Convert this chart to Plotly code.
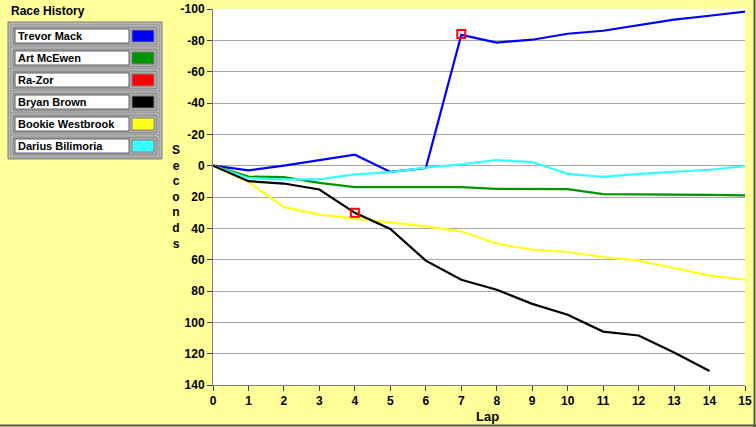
import plotly.graph_objects as go

laps = list(range(16))
laps_bryan = list(range(15))
trevor = [0, 3, 0, -3.5, -7, 4, 1.5, -83.5, -78.6, -80.4, -84.2, -86.1, -89.8, -93.2, -95.7, -98.3]
art = [0, 7, 7.3, 11, 13.7, 13.7, 13.7, 13.7, 14.8, 15, 15, 18.2, 18.2, 18.2, 18.6, 19]
razor_laps = [4, 7]
razor = [30.1, -84]
bryan = [0, 9.9, 11.4, 15.2, 30.1, 40.4, 60.6, 72.8, 79.2, 88.2, 95.2, 105.9, 108.4, 119.3, 131]
bookie = [0, 10.5, 26.5, 31.2, 33.8, 36.1, 38.7, 41.9, 49.8, 53.6, 55.1, 58.3, 60.6, 65.3, 70.2, 72.8]
darius = [0, 8, 8.8, 8.8, 5.6, 4.1, 1.3, -0.8, -3.6, -2.3, 5.2, 7.1, 5.2, 3.9, 2.6, 0.3]

names = ["Trevor Mack", "Art McEwen", "Ra-Zor", "Bryan Brown", "Bookie Westbrook", "Darius Bilimoria"]
colors = ["#0000FF", "#009400", "#FF0000", "#000000", "#FFFF1A", "#33FFFF"]

y_ticks = [-100, -80, -60, -40, -20, 0, 20, 40, 60, 80, 100, 120, 140]
y_ticktext = ["-100", "-80", "-60", "-40", "-20", "0", "20", "40", "60", "80", "100", "120", "140"]
x_ticks = list(range(16))

W, H = 756, 427
L, R, T, B = 213, 745, 9, 385
BG = "#FFFF99"


def px(x):
    return (x - L) / (R - L)


def py(y):
    return (B - y) / (B - T)


fig = go.Figure()
series = [
    (laps, trevor, colors[0]),
    (laps, art, colors[1]),
    (laps, darius, colors[5]),
    (laps, bookie, colors[4]),
    (laps_bryan, bryan, colors[3]),
]
for xs, ys, c in series:
    fig.add_trace(go.Scatter(x=xs, y=ys, mode="lines",
                             line=dict(color=c, width=2.2),
                             showlegend=False, hoverinfo="skip"))
fig.add_trace(go.Scatter(x=razor_laps, y=razor, mode="markers",
                         marker=dict(symbol="square-open", size=8, color=colors[2],
                                     line=dict(width=2, color=colors[2])),
                         showlegend=False, hoverinfo="skip"))

shapes = []
annotations = []

# legend frame
shapes.append(dict(type="rect", xref="paper", yref="paper",
                   x0=px(8), x1=px(162), y0=py(22), y1=py(159),
                   fillcolor="#B8B8B8", line=dict(color="#7A7A7A", width=1)))
for i, (n, c) in enumerate(zip(names, colors)):
    top = 25 + i * 22
    shapes.append(dict(type="rect", xref="paper", yref="paper",
                       x0=px(11), x1=px(159), y0=py(top), y1=py(top + 22),
                       fillcolor="#D4D4D4", line=dict(color="#8A8A8A", width=1)))
    shapes.append(dict(type="rect", xref="paper", yref="paper",
                       x0=px(13), x1=px(157), y0=py(top + 2), y1=py(top + 20),
                       fillcolor="#ACACAC", line=dict(color="#7A7A7A", width=1)))
    shapes.append(dict(type="rect", xref="paper", yref="paper",
                       x0=px(15), x1=px(129), y0=py(top + 4), y1=py(top + 18),
                       fillcolor="#FFFFFF", line=dict(color="#606060", width=1)))
    shapes.append(dict(type="rect", xref="paper", yref="paper",
                       x0=px(132), x1=px(154), y0=py(top + 5), y1=py(top + 17),
                       fillcolor=c, line=dict(color="#808080", width=1)))
    annotations.append(dict(xref="paper", yref="paper", x=px(16), y=py(top + 11),
                            xanchor="left", yanchor="middle", showarrow=False,
                            text="<b>" + n + "</b>",
                            font=dict(family="Liberation Sans", size=11, color="black")))

# window frame lines
shapes.append(dict(type="line", xref="paper", yref="paper",
                   x0=px(754.5), x1=px(754.5), y0=py(0), y1=py(427),
                   line=dict(color="#555555", width=2)))
shapes.append(dict(type="line", xref="paper", yref="paper",
                   x0=px(0), x1=px(756), y0=py(425.5), y1=py(425.5),
                   line=dict(color="#555555", width=2)))

annotations.append(dict(xref="paper", yref="paper", x=px(9), y=py(11),
                        xanchor="left", yanchor="middle", showarrow=False,
                        text="<b>Race History</b>",
                        font=dict(family="Liberation Sans", size=12, color="black")))
annotations.append(dict(xref="paper", yref="paper", x=px(176), y=py(197),
                        xanchor="center", yanchor="middle", showarrow=False,
                        text="<b>S<br>e<br>c<br>o<br>n<br>d<br>s</b>",
                        font=dict(family="Liberation Sans", size=12, color="black")))
annotations.append(dict(xref="paper", yref="paper", x=px(487), y=py(417),
                        xanchor="center", yanchor="middle", showarrow=False,
                        text="<b>Lap</b>",
                        font=dict(family="Liberation Sans", size=13, color="black")))

axis_font = dict(family="Liberation Sans", size=12, color="black", weight="bold")
fig.update_layout(
    template="none",
    width=W, height=H,
    margin=dict(l=L, r=W - R, t=T, b=H - B, pad=0, autoexpand=False),
    paper_bgcolor=BG, plot_bgcolor="white",
    shapes=shapes, annotations=annotations,
    showlegend=False,
    xaxis=dict(range=[0, 15], tickvals=x_ticks, ticks="outside", ticklen=5, tickwidth=1,
               tickcolor="#404040", showgrid=False, zeroline=False, automargin=False,
               showline=True, linecolor="#808080", linewidth=1, tickfont=axis_font),
    yaxis=dict(range=[140, -100], tickvals=y_ticks, ticktext=y_ticktext, ticks="outside",
               ticklen=5, tickwidth=1, tickcolor="#404040", automargin=False,
               showgrid=True, gridcolor="#A8A8A8", gridwidth=1, zeroline=False,
               showline=True, linecolor="#808080", linewidth=1, tickfont=axis_font),
)

fig.write_html("out.html", config={"displayModeBar": False},
               post_script="document.body.style.margin='0';document.body.style.overflow='hidden';")
